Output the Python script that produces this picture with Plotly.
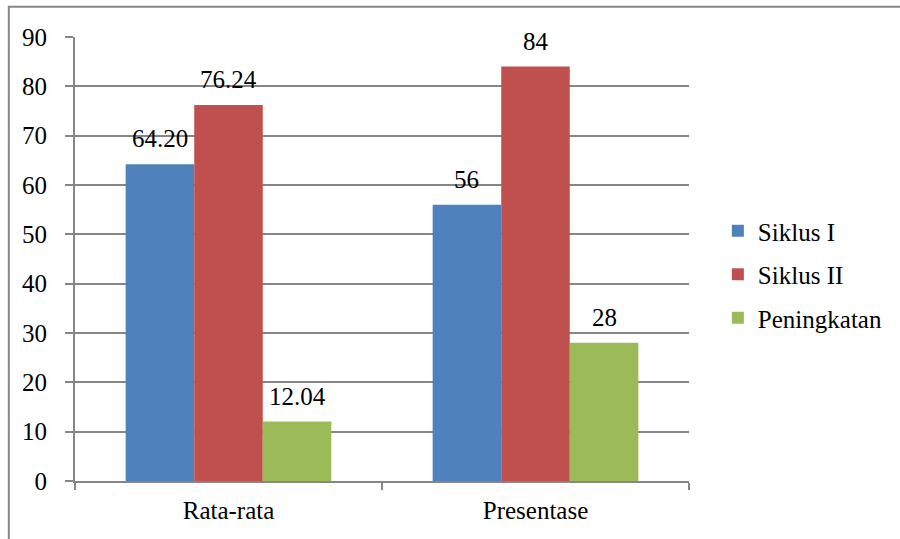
import plotly.graph_objects as go

categories = ["Rata-rata", "Presentase"]
series_names = ["Siklus I", "Siklus II", "Peningkatan"]
siklus1 = [64.20, 56]
siklus2 = [76.24, 84]
peningkatan = [12.04, 28]
labels1 = ["64.20", "56"]
labels2 = ["76.24", "84"]
labels3 = ["12.04", "28"]
y_ticks = [0, 10, 20, 30, 40, 50, 60, 70, 80, 90]

colors = ["#4F81BD", "#C0504D", "#9BBB59"]
FONT = "'Times New Roman', 'Liberation Serif', 'DejaVu Serif', serif"
GRID = "#868686"
BARGAP = 0.33
PLOT_W = 900 - 75 - 208

fig = go.Figure()
series = [siklus1, siklus2, peningkatan]
labels = [labels1, labels2, labels3]
for name, vals, col in zip(series_names, series, colors):
    fig.add_trace(go.Bar(
        name=name, x=categories, y=vals,
        marker=dict(color=col, line=dict(width=0)),
        legendgroup=name,
    ))

# data labels above bars, positioned via the axes
bar_px = PLOT_W / len(categories) * (1 - BARGAP) / len(series)
annotations = []
for i, (vals, labs) in enumerate(zip(series, labels)):
    for cat, v, lab in zip(categories, vals, labs):
        annotations.append(dict(
            x=cat, y=v, xref="x", yref="y", text=lab, showarrow=False,
            xanchor="center", yanchor="bottom",
            xshift=(i - 1) * bar_px, yshift=10,
            font=dict(family=FONT, size=25, color="black"),
        ))

fig.update_layout(
    width=900, height=539,
    margin=dict(l=75, r=208, t=37, b=58),
    paper_bgcolor="white", plot_bgcolor="white",
    barmode="group", bargap=BARGAP, bargroupgap=0,
    font=dict(family=FONT, size=25, color="black"),
    legend=dict(x=1.047, y=0.465, xanchor="left", yanchor="middle",
                tracegroupgap=8, font=dict(family=FONT, size=25)),
    annotations=annotations,
    shapes=[dict(type="path", xref="paper", yref="paper",
                 path="M -0.1078,-0.2 L -0.1078,1.068 L 1.5,1.068",
                 line=dict(color=GRID, width=2))],
)
fig.update_yaxes(range=[0, 90], tickvals=y_ticks, showgrid=True, gridcolor=GRID,
                 gridwidth=2, showline=True, linecolor=GRID, linewidth=2,
                 ticks="outside", ticklen=8, tickcolor=GRID, tickwidth=2,
                 zeroline=False, ticklabelstandoff=13,
                 tickfont=dict(family=FONT, size=25))
fig.update_xaxes(showline=True, linecolor=GRID, linewidth=2, ticks="outside",
                 tickson="boundaries", ticklen=7, tickcolor=GRID, tickwidth=2,
                 ticklabelstandoff=6, tickfont=dict(family=FONT, size=25))

fig.write_html("out.html")
